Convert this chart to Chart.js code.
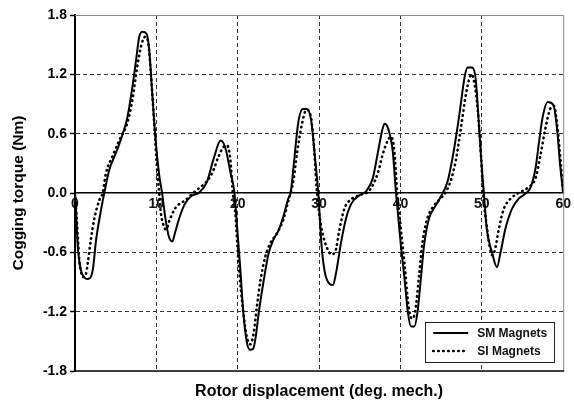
<!DOCTYPE html>
<html>
<head>
<meta charset="utf-8">
<script src="https://cdn.jsdelivr.net/npm/chart.js@4/dist/chart.umd.min.js"></script>
<style>
  html, body { margin: 0; padding: 0; background: #fff; }
  canvas { display: block; }
</style>
</head>
<body>
<canvas id="c" width="574" height="403"></canvas>
<script>
// ---- Data ----
const smDeg = [0,0.15,0.35,0.7,1.1,1.5,1.85,2.2,2.6,3.2,3.6,4.2,5.0,5.8,6.45,7.05,7.5,7.9,8.3,8.8,9.15,9.5,9.9,10.35,10.7,11.1,11.5,11.95,12.3,12.75,13.5,14.3,15.2,16.2,17.05,17.9,18.5,19.1,19.6,19.9,20.3,20.7,21.1,21.5,21.9,22.2,22.6,23.2,23.8,24.4,25.0,25.6,26.2,26.5,26.9,27.45,28.0,28.5,29.05,29.5,29.9,30.3,30.7,31.3,31.7,32.1,32.7,33.3,33.95,35.0,35.8,36.6,37.2,37.8,38.05,38.45,39.05,39.45,40.05,40.5,40.9,41.3,41.7,42.1,42.5,42.9,43.5,44.3,45.0,45.8,46.6,47.25,47.9,48.25,48.8,49.25,49.65,50.0,50.25,50.6,51.25,51.85,52.3,52.9,53.7,54.5,55.3,55.95,56.6,57.0,57.5,58.1,58.8,59.3,59.6,60];
const smNm  = [0,-0.22,-0.55,-0.77,-0.85,-0.87,-0.86,-0.77,-0.47,-0.17,0,0.23,0.40,0.58,0.77,1.07,1.34,1.58,1.63,1.61,1.42,1.00,0.54,0.18,0,-0.25,-0.43,-0.49,-0.40,-0.27,-0.11,-0.03,0,0.11,0.35,0.53,0.45,0.21,0,-0.32,-0.75,-1.22,-1.5,-1.585,-1.575,-1.46,-1.2,-0.88,-0.61,-0.47,-0.38,-0.24,-0.06,0,0.3,0.72,0.85,0.85,0.72,0.35,0,-0.53,-0.80,-0.92,-0.93,-0.80,-0.50,-0.26,-0.11,-0.02,0.02,0.15,0.40,0.65,0.70,0.66,0.42,0,-0.53,-0.87,-1.2,-1.35,-1.35,-1.2,-0.87,-0.53,-0.26,-0.13,-0.03,0.12,0.45,0.8,1.18,1.27,1.27,1.15,0.68,0.25,0,-0.36,-0.6,-0.75,-0.6,-0.36,-0.16,-0.06,-0.01,0.05,0.25,0.5,0.78,0.92,0.89,0.6,0.3,0];

const siDeg = [0,0.15,0.35,0.55,0.85,1.1,1.35,1.55,1.95,2.35,3.0,3.4,3.8,4.6,5.6,6.4,7.05,7.65,8.2,8.65,9.0,9.4,9.8,10.1,10.35,10.55,10.95,11.2,11.6,12.35,13.6,14.4,15.4,16.0,16.85,17.65,18.3,18.7,19.1,19.4,19.7,20.1,20.7,21.1,21.55,21.95,22.35,22.8,23.4,24.0,24.8,25.6,26.25,26.85,27.3,27.85,28.45,28.9,29.3,29.7,30.0,30.4,30.9,31.5,32.0,32.5,33.1,33.7,35.0,36.0,36.6,37.25,37.85,38.5,38.85,39.25,39.6,40.05,40.5,41.0,41.4,41.8,42.3,42.7,43.3,44.2,45.0,45.5,46.2,46.8,47.45,48.05,48.5,48.75,49.1,49.5,49.9,50.2,50.6,51.0,51.3,51.65,52.1,52.7,53.5,54.5,55.6,56.6,57.2,57.8,58.4,58.85,59.35,59.7,60];
const siNm  = [0,-0.18,-0.45,-0.70,-0.83,-0.85,-0.82,-0.72,-0.47,-0.27,-0.07,0,0.2,0.37,0.56,0.70,0.94,1.28,1.51,1.58,1.52,1.12,0.62,0.22,0,-0.2,-0.34,-0.37,-0.28,-0.15,-0.07,-0.01,0.06,0.10,0.20,0.37,0.47,0.48,0.33,0,-0.2,-0.71,-1.22,-1.45,-1.53,-1.42,-1.15,-0.88,-0.64,-0.51,-0.41,-0.27,-0.07,0.13,0.41,0.68,0.84,0.80,0.55,0.05,-0.2,-0.40,-0.54,-0.62,-0.59,-0.37,-0.16,-0.08,-0.02,0.01,0.08,0.21,0.40,0.54,0.57,0.42,0,-0.36,-0.72,-1.15,-1.27,-1.2,-0.82,-0.5,-0.26,-0.12,-0.05,0,0.13,0.33,0.67,1.0,1.17,1.2,1.1,0.84,0.37,-0.05,-0.33,-0.56,-0.63,-0.56,-0.36,-0.16,-0.06,0,0.05,0.15,0.38,0.65,0.85,0.88,0.62,0.3,0];

const seriesNames = ['SM Magnets', 'SI Magnets'];
const xTicks = [0, 10, 20, 30, 40, 50, 60];
const yTicks = [-1.8, -1.2, -0.6, 0.0, 0.6, 1.2, 1.8];
const xTitle = 'Rotor displacement (deg. mech.)';
const yTitle = 'Cogging torque (Nm)';

// ---- Helpers ----
const FONT = '"Liberation Sans", Arial, Helvetica, sans-serif';
const toPoints = (xs, ys) => xs.map((x, i) => ({ x: x, y: ys[i] }));
const near = (a, b) => Math.abs(a - b) < 1e-6;
const DOT_DASH = [0.5, 4.5];

const framePlugin = {
  id: 'frame',
  beforeDatasetsDraw(chart) {
    const { ctx, chartArea: a } = chart;
    ctx.save();
    ctx.lineWidth = 1;
    ctx.strokeStyle = '#8a8a8a';
    ctx.beginPath();
    ctx.moveTo(a.left, a.top + 0.5);
    ctx.lineTo(a.right + 0.5, a.top + 0.5);
    ctx.lineTo(a.right + 0.5, a.bottom);
    ctx.stroke();
    ctx.lineWidth = 1.6;
    ctx.strokeStyle = '#000';
    ctx.beginPath();
    ctx.moveTo(a.left, a.bottom);
    ctx.lineTo(a.right + 1, a.bottom);
    ctx.stroke();
    ctx.restore();
  }
};

const legendBoxPlugin = {
  id: 'legendBox',
  afterDraw(chart) {
    const { ctx, chartArea: a } = chart;
    const w = 129, h = 40;
    const x0 = a.right - 9 - w, y0 = a.bottom - 9 - h;
    ctx.save();
    ctx.fillStyle = '#fff';
    ctx.fillRect(x0, y0, w, h);
    ctx.lineWidth = 1;
    ctx.strokeStyle = '#222';
    ctx.strokeRect(Math.round(x0) + 0.5, Math.round(y0) + 0.5, w, h);
    chart.data.datasets.forEach((ds, i) => {
      const yy = y0 + 11 + i * 18;
      ctx.save();
      ctx.strokeStyle = ds.borderColor;
      ctx.lineWidth = ds.borderWidth;
      ctx.lineCap = ds.borderCapStyle || 'butt';
      ctx.setLineDash(ds.borderDash || []);
      ctx.beginPath();
      ctx.moveTo(x0 + 8, yy);
      ctx.lineTo(x0 + 43, yy);
      ctx.stroke();
      ctx.restore();
      ctx.fillStyle = '#111';
      ctx.font = 'bold 12px ' + FONT;
      ctx.textBaseline = 'middle';
      ctx.textAlign = 'left';
      ctx.fillText(ds.label, x0 + 52, yy + 0.5);
    });
    ctx.restore();
  }
};

new Chart(document.getElementById('c'), {
  type: 'line',
  data: {
    datasets: [
      {
        label: seriesNames[0],
        data: toPoints(smDeg, smNm),
        borderColor: '#000',
        borderWidth: 2,
        pointRadius: 0,
        cubicInterpolationMode: 'monotone',
        fill: false
      },
      {
        label: seriesNames[1],
        data: toPoints(siDeg, siNm),
        borderColor: '#000',
        borderWidth: 2.6,
        borderDash: DOT_DASH,
        borderCapStyle: 'round',
        pointRadius: 0,
        cubicInterpolationMode: 'monotone',
        fill: false
      }
    ]
  },
  options: {
    responsive: false,
    animation: false,
    events: [],
    layout: { padding: { left: 0, right: 8, top: 15, bottom: 0 } },
    plugins: {
      legend: { display: false },
      tooltip: { enabled: false },
      title: {
        display: true,
        text: xTitle,
        position: 'bottom',
        fullSize: false,
        color: '#000',
        font: { family: FONT, size: 16, weight: 'bold', lineHeight: 1.2 },
        padding: { top: 11, bottom: 1.8 }
      }
    },
    scales: {
      x: {
        type: 'linear',
        position: { y: 0 },
        min: xTicks[0],
        max: xTicks[xTicks.length - 1],
        afterBuildTicks: (scale) => { scale.ticks = xTicks.map(v => ({ value: v })); },
        ticks: {
          color: '#111',
          font: { family: FONT, size: 14, weight: 'bold' },
          padding: 3,
          maxRotation: 0,
          autoSkip: false,
          callback: (v) => String(v)
        },
        grid: {
          drawTicks: false,
          lineWidth: 1,
          color: (c) => (c.tick && (near(c.tick.value, xTicks[0]) || near(c.tick.value, xTicks[xTicks.length - 1]))) ? 'rgba(0,0,0,0)' : '#333'
        },
        border: { display: true, color: '#000', width: 1.6, dash: [4, 3] }
      },
      y: {
        type: 'linear',
        position: 'left',
        min: yTicks[0],
        max: yTicks[yTicks.length - 1],
        afterBuildTicks: (scale) => { scale.ticks = yTicks.map(v => ({ value: v })); },
        afterFit: (scale) => { scale.width = 75; },
        ticks: {
          color: '#000',
          font: { family: FONT, size: 14, weight: 'bold' },
          padding: 3,
          autoSkip: false,
          callback: (v) => Number(v).toFixed(1)
        },
        grid: {
          drawTicks: true,
          tickLength: 5,
          tickWidth: 1.5,
          tickColor: '#000',
          lineWidth: 1,
          color: (c) => (c.tick && (near(c.tick.value, 0) || near(c.tick.value, yTicks[0]) || near(c.tick.value, yTicks[yTicks.length - 1]))) ? 'rgba(0,0,0,0)' : '#333'
        },
        border: { display: true, color: '#000', width: 2, dash: [4, 3] },
        title: {
          display: true,
          text: yTitle,
          color: '#000',
          font: { family: FONT, size: 15.5, weight: 'bold', lineHeight: 1.2 },
          padding: { top: 9, bottom: 0 }
        }
      }
    }
  },
  plugins: [framePlugin, legendBoxPlugin]
});
</script>
</body>
</html>
